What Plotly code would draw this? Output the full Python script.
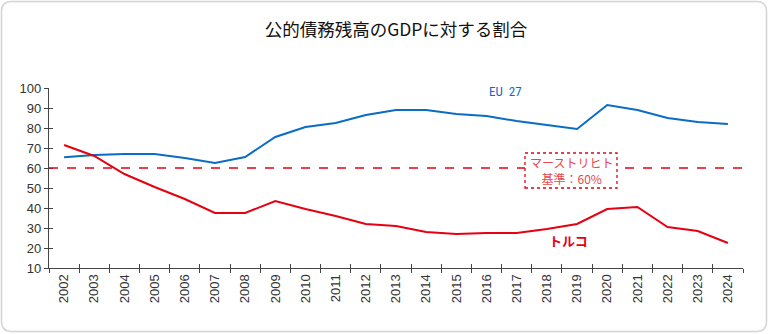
import plotly.graph_objects as go

years = [str(y) for y in range(2002, 2025)]
eu27 = [65.4, 66.5, 67, 67, 65, 62.5, 65.5, 75.5, 80.5, 82.5, 86.5, 89, 89, 87, 86, 83.5, 81.5, 79.5, 91.5, 89, 85, 83, 82]
turkey = [71.5, 66, 57, 50.5, 44.5, 37.5, 37.5, 43.5, 39.5, 36, 32, 31, 28, 27, 27.5, 27.5, 29.5, 32, 39.5, 40.5, 30.5, 28.5, 22.5]
maastricht = 60

W, H = 768, 334
L, R, T, B = 49, 25, 88, 66
pw, ph = W - L - R, H - T - B

def px(x):
    return (x - L) / pw

def py(y):
    return 1 - (y - T) / ph

BLUE = "#0a6cc4"
RED = "#e60012"

fig = go.Figure()
fig.add_trace(go.Scatter(x=years, y=eu27, mode="lines", line=dict(color=BLUE, width=2), name="EU 27"))
fig.add_trace(go.Scatter(x=years, y=turkey, mode="lines", line=dict(color=RED, width=2), name="トルコ"))
# invisible trace to render inner tick marks on overlay axes
fig.add_trace(go.Scatter(x=years, y=eu27, mode="lines", line=dict(width=0), opacity=0,
                         xaxis="x2", yaxis="y2", hoverinfo="skip", showlegend=False))

# card border
r = 10
x0, x1, y0, y1 = 1.5, 766.5, 1.5, 331.5
path = (f"M {px(x0+r)},{py(y0)} L {px(x1-r)},{py(y0)} Q {px(x1)},{py(y0)} {px(x1)},{py(y0+r)} "
        f"L {px(x1)},{py(y1-r)} Q {px(x1)},{py(y1)} {px(x1-r)},{py(y1)} "
        f"L {px(x0+r)},{py(y1)} Q {px(x0)},{py(y1)} {px(x0)},{py(y1-r)} "
        f"L {px(x0)},{py(y0+r)} Q {px(x0)},{py(y0)} {px(x0+r)},{py(y0)} Z")
fig.add_shape(type="path", path=path, xref="paper", yref="paper",
              line=dict(color="#d4d4d4", width=1.5), layer="below")

# Maastricht line
fig.add_shape(type="line", xref="paper", yref="y", x0=0, x1=1, y0=maastricht, y1=maastricht,
              line=dict(color=RED, width=1.3, dash="dash"))
# box
fig.add_shape(type="rect", xref="paper", yref="paper",
              x0=px(525), x1=px(617), y0=py(188), y1=py(153),
              fillcolor="white", line=dict(color=RED, width=1.3, dash="dot"))
fig.add_annotation(xref="paper", yref="paper", x=px(571), y=py(170.5), xanchor="center", yanchor="middle",
                   text="マーストリヒト<br>基準：60%", showarrow=False,
                   font=dict(family="Noto Sans CJK JP", size=12, color="#e8474f"), align="center")

fig.add_annotation(xref="paper", yref="paper", x=px(505), y=py(91), xanchor="center", yanchor="middle",
                   text="EU  27", showarrow=False,
                   font=dict(family="Roboto Condensed, Roboto", size=13, color=BLUE))
fig.add_annotation(xref="paper", yref="paper", x=px(568), y=py(240), xanchor="center", yanchor="middle",
                   text="<b>トルコ</b>", showarrow=False,
                   font=dict(family="Noto Sans CJK JP", size=13, color=RED))

fig.update_layout(
    width=W, height=H,
    margin=dict(l=L, r=R, t=T, b=B),
    paper_bgcolor="white", plot_bgcolor="white",
    showlegend=False,
    title=dict(text="公的債務残高のGDPに対する割合", x=0.5, xref="paper", y=1 - 30 / H, yanchor="middle",
               xanchor="center",
               font=dict(family="Noto Sans CJK JP", size=17.5, color="#111")),
    font=dict(family="Liberation Sans, Arial", size=13, color="#333"),
    xaxis2=dict(type="category", overlaying="x", range=[-0.5, 22.5], tickson="boundaries", ticks="inside",
                ticklen=4, tickcolor="#444", showticklabels=False, showline=False, showgrid=False,
                zeroline=False, side="bottom"),
    yaxis2=dict(overlaying="y", range=[10, 100], dtick=10, ticks="inside", ticklen=4, tickcolor="#444",
                showticklabels=False, showline=False, showgrid=False, zeroline=False, side="left"),
    xaxis=dict(type="category", range=[-0.5, 22.5], tickson="boundaries", ticks="outside", ticklen=4,
               tickcolor="#444", showline=True, linecolor="#444", linewidth=1.2, showgrid=False,
               tickangle=-90, tickfont=dict(size=13, color="#333"), zeroline=False),
    yaxis=dict(range=[10, 100], dtick=10, ticks="outside", ticklen=4, tickcolor="#444",
               showline=True, linecolor="#444", linewidth=1.2, showgrid=False, zeroline=False,
               tickfont=dict(size=13, color="#333")),
)

fig.write_html("out.html")
